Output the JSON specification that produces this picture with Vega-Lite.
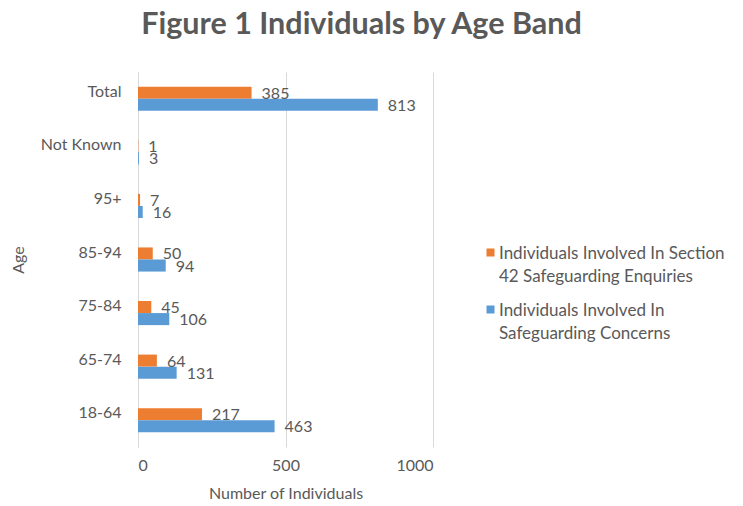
{
  "$schema": "https://vega.github.io/schema/vega-lite/v6.json",
  "width": 295,
  "height": 375,
  "autosize": {"type": "none"},
  "padding": {"left": 138, "top": 72, "right": 310, "bottom": 59},
  "background": "white",
  "title": {
    "text": "Figure 1 Individuals by Age Band",
    "font": "Lato",
    "fontSize": 30.5,
    "fontWeight": "bold",
    "color": "#595959",
    "anchor": "middle",
    "frame": "group",
    "dx": 76,
    "offset": 32
  },
  "data": {
    "values": [
      {"age": "Total", "series": "Individuals Involved In Section|42 Safeguarding Enquiries", "value": 385},
      {"age": "Total", "series": "Individuals Involved In|Safeguarding Concerns", "value": 813},
      {"age": "Not Known", "series": "Individuals Involved In Section|42 Safeguarding Enquiries", "value": 1},
      {"age": "Not Known", "series": "Individuals Involved In|Safeguarding Concerns", "value": 3},
      {"age": "95+", "series": "Individuals Involved In Section|42 Safeguarding Enquiries", "value": 7},
      {"age": "95+", "series": "Individuals Involved In|Safeguarding Concerns", "value": 16},
      {"age": "85-94", "series": "Individuals Involved In Section|42 Safeguarding Enquiries", "value": 50},
      {"age": "85-94", "series": "Individuals Involved In|Safeguarding Concerns", "value": 94},
      {"age": "75-84", "series": "Individuals Involved In Section|42 Safeguarding Enquiries", "value": 45},
      {"age": "75-84", "series": "Individuals Involved In|Safeguarding Concerns", "value": 106},
      {"age": "65-74", "series": "Individuals Involved In Section|42 Safeguarding Enquiries", "value": 64},
      {"age": "65-74", "series": "Individuals Involved In|Safeguarding Concerns", "value": 131},
      {"age": "18-64", "series": "Individuals Involved In Section|42 Safeguarding Enquiries", "value": 217},
      {"age": "18-64", "series": "Individuals Involved In|Safeguarding Concerns", "value": 463}
    ]
  },
  "encoding": {
    "y": {
      "field": "age",
      "type": "nominal",
      "sort": ["Total", "Not Known", "95+", "85-94", "75-84", "65-74", "18-64"],
      "scale": {"paddingInner": 0.55, "paddingOuter": 0.275},
      "axis": {
        "title": "Age",
        "titleFont": "Lato",
        "titleFontSize": 16,
        "titleFontWeight": "normal",
        "titleColor": "#595959",
        "titlePadding": 14,
        "labelFont": "Lato",
        "labelFontSize": 16,
        "labelColor": "#595959",
        "labelPadding": 17,
        "labelOffset": 0,
        "ticks": false,
        "domainColor": "#d9d9d9"
      }
    },
    "yOffset": {
      "field": "series",
      "type": "nominal",
      "sort": ["Individuals Involved In Section|42 Safeguarding Enquiries", "Individuals Involved In|Safeguarding Concerns"],
      "scale": {"paddingInner": 0, "paddingOuter": 0}
    },
    "x": {
      "field": "value",
      "type": "quantitative",
      "scale": {"domain": [0, 1000], "nice": false},
      "axis": {
        "title": "Number of Individuals",
        "titleFont": "Lato",
        "titleFontSize": 16,
        "titleFontWeight": "normal",
        "titleColor": "#595959",
        "titlePadding": 12,
        "labelFont": "Lato",
        "labelFontSize": 16,
        "labelColor": "#595959",
        "labelPadding": 17,
        "format": "d",
        "values": [0, 500, 1000],
        "ticks": false,
        "domain": false,
        "grid": true,
        "gridColor": "#d9d9d9",
        "gridWidth": 1
      }
    }
  },
  "layer": [
    {
      "mark": {"type": "bar"},
      "encoding": {
        "color": {
          "field": "series",
          "type": "nominal",
          "sort": ["Individuals Involved In Section|42 Safeguarding Enquiries", "Individuals Involved In|Safeguarding Concerns"],
          "scale": {
            "domain": ["Individuals Involved In Section|42 Safeguarding Enquiries", "Individuals Involved In|Safeguarding Concerns"],
            "range": ["#ED7D31", "#5B9BD5"]
          },
          "legend": {
            "title": null,
            "orient": "none",
            "legendX": 344,
            "legendY": 172,
            "padding": 0,
            "symbolType": "square",
            "symbolSize": 64,
            "symbolStrokeWidth": 0,
            "labelOffset": 0,
            "labelFont": "Lato",
            "labelFontSize": 17,
            "labelColor": "#595959",
            "labelBaseline": "top",
            "labelLimit": 300,
            "rowPadding": 16,
            "labelExpr": "split(datum.label, '|')"
          }
        }
      }
    },
    {
      "mark": {"type": "text", "align": "left", "baseline": "middle", "dx": 10, "dy": 1, "font": "Lato", "fontSize": 16, "color": "#595959"},
      "encoding": {
        "text": {"field": "value", "type": "quantitative"}
      }
    }
  ],
  "config": {
    "view": {"stroke": null},
    "style": {"guide-label": {"lineHeight": 23, "dy": -7}}
  }
}
